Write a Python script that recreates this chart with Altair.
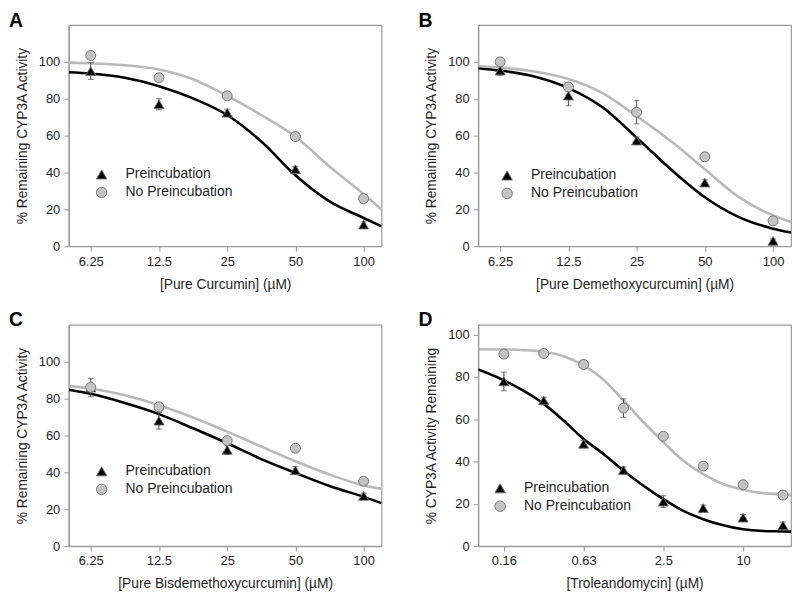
import altair as alt
import pandas as pd

FONT = "Liberation Sans"

# ---------------- data ----------------
series = ["Preincubation", "No Preincubation"]

# Panel A: pure curcumin
a_conc = [6.25, 12.5, 25, 50, 100]
a_pre = [95, 77, 72.4, 41.8, 11.7]
a_pre_sd = [4.5, 3, 2, 1.5, 1.5]
a_nopre = [103.5, 91.4, 81.6, 59.5, 25.8]
a_nopre_sd = [2, 1.5, 2, 1.5, 1.5]
a_cx = [5, 6.25, 8.84, 12.5, 17.68, 25, 35.36, 50, 70.71, 100, 120]
a_pre_curve = [94.4, 93.7, 91.4, 86.8, 80.2, 71.2, 56.8, 38.5, 24.3, 15.3, 10.8]
a_nopre_curve = [99.6, 99.3, 98.2, 95.9, 90.6, 81.6, 71.2, 59.5, 43.2, 28.3, 19.8]

# Panel B: pure demethoxycurcumin
b_conc = [6.25, 12.5, 25, 50, 100]
b_pre = [95.3, 81.7, 57.3, 34.5, 2.9]
b_pre_sd = [2.5, 5.5, 2, 1.5, 1]
b_nopre = [100, 86.4, 72.7, 48.5, 13.8]
b_nopre_sd = [2, 2, 6.3, 2, 2]
b_cx = [5, 6.25, 8.84, 12.5, 17.68, 25, 35.36, 50, 70.71, 100, 120]
b_pre_curve = [96.6, 95.3, 92.1, 85.8, 75.4, 58.9, 41.8, 26.6, 15.8, 9.5, 7.4]
b_nopre_curve = [97.8, 96.9, 94.8, 90.7, 83.1, 70.6, 57.1, 41.8, 26.6, 16.7, 13.1]

# Panel C: pure bisdemethoxycurcumin
c_conc = [6.25, 12.5, 25, 50, 100]
c_pre = [86, 68, 52.2, 41.1, 27.2]
c_pre_sd = [5, 4.5, 2.5, 2, 1.5]
c_nopre = [86.2, 75.5, 57.2, 53.1, 35.2]
c_nopre_sd = [2, 2, 2, 2, 2]
c_cx = [5, 6.25, 8.84, 12.5, 17.68, 25, 35.36, 50, 70.71, 100, 120]
c_pre_curve = [84.8, 82.6, 77.6, 71.6, 63.9, 55.8, 47.2, 39.7, 32.6, 26.7, 23.3]
c_nopre_curve = [86.9, 85.5, 81.8, 76.4, 69.8, 62.1, 54.0, 46.0, 38.8, 32.9, 31.1]

# Panel D: troleandomycin
d_conc = [0.15625, 0.3125, 0.625, 1.25, 2.5, 5, 10, 20]
d_pre = [77.8, 68.8, 48.3, 35.9, 21, 17.9, 13.4, 9.8]
d_pre_sd = [4.4, 1.5, 1.5, 1.5, 2.8, 1.5, 1.5, 1.5]
d_nopre = [90.7, 91, 85.8, 65.2, 51.9, 37.8, 29, 24.1]
d_nopre_sd = [1.5, 1.5, 1.5, 4.3, 1.5, 1.5, 1.5, 1.5]
d_cx = [0.1, 0.156, 0.221, 0.3125, 0.442, 0.625, 0.884, 1.25, 1.77, 2.5,
        3.54, 5, 7.07, 10, 14.14, 20, 23]
d_pre_curve = [83.4, 78.3, 73.3, 67.2, 59.3, 50.6, 43.5, 35.6, 28.5, 22.2,
               16.6, 12.7, 9.8, 7.9, 7.1, 6.9, 6.8]
d_nopre_curve = [93.0, 92.9, 92.6, 91.8, 89.7, 85.4, 78.6, 68.8, 58.5, 49.1,
                 40.3, 34.0, 29.3, 26.6, 25.0, 24.4, 24.2]

W, H = 314, 222
FRAME = "#9a9a9a"
TXT = "#1e1e1e"


def panel(letter, conc, pre, pre_sd, nopre, nopre_sd, cx, pre_c, nopre_c,
          xdomain, xticks, xfmt, ydomain, xtitle, ytitle, leg_xy):
    pts = pd.DataFrame({
        "conc": conc + conc,
        "val": pre + nopre,
        "sd": pre_sd + nopre_sd,
        "series": [series[0]] * len(conc) + [series[1]] * len(conc),
    })
    pts["lo"] = pts["val"] - pts["sd"]
    pts["hi"] = pts["val"] + pts["sd"]
    cur = pd.DataFrame({
        "conc": cx + cx,
        "val": pre_c + nopre_c,
        "series": [series[0]] * len(cx) + [series[1]] * len(cx),
    })

    xs = alt.Scale(type="log", domain=xdomain, nice=False)
    ys = alt.Scale(domain=ydomain, nice=False, zero=False)
    xax = alt.Axis(values=xticks, format=xfmt, title=xtitle, grid=False)
    yax = alt.Axis(values=[0, 20, 40, 60, 80, 100], title=ytitle, grid=False)

    x = alt.X("conc:Q", scale=xs, axis=xax)
    y = alt.Y("val:Q", scale=ys, axis=yax)

    lines = alt.Chart(cur).mark_line(strokeWidth=2.6, interpolate="monotone",
                                     clip=True).encode(
        x=x, y=y,
        stroke=alt.Stroke("series:N", legend=None,
                          scale=alt.Scale(domain=series,
                                          range=["#000000", "#b9b9b9"])),
        detail="series:N",
    )
    bars = alt.Chart(pts).mark_rule(color="#4a4a4a", strokeWidth=1).encode(
        x=alt.X("conc:Q", scale=xs), y=alt.Y("lo:Q", scale=ys), y2="hi:Q")
    cap_hi = alt.Chart(pts).mark_tick(color="#4a4a4a", thickness=1,
                                      size=6, orient="horizontal").encode(
        x=alt.X("conc:Q", scale=xs), y=alt.Y("hi:Q", scale=ys))
    cap_lo = alt.Chart(pts).mark_tick(color="#4a4a4a", thickness=1,
                                      size=6, orient="horizontal").encode(
        x=alt.X("conc:Q", scale=xs), y=alt.Y("lo:Q", scale=ys))
    points = alt.Chart(pts).mark_point(filled=True, opacity=1, size=100,
                                       stroke="#6e6e6e",
                                       strokeWidth=0.9).encode(
        x=x, y=y,
        fill=alt.Fill("series:N", sort=series,
                      scale=alt.Scale(domain=series,
                                      range=["#000000", "#c3c3c3"]),
                      legend=alt.Legend(orient="none", legendX=leg_xy[0],
                                        legendY=leg_xy[1], title=None,
                                        symbolSize=110, labelFontSize=14,
                                        labelFont=FONT, labelColor=TXT,
                                        labelOffset=17, rowPadding=3,
                                        symbolStrokeColor="#6e6e6e",
                                        symbolStrokeWidth=0.9)),
        shape=alt.Shape("series:N", sort=series,
                        scale=alt.Scale(domain=series,
                                        range=["triangle-up", "circle"])),
        order=alt.Order("order:Q"),
    ).transform_calculate(order="datum.series == 'Preincubation' ? 0 : 1")

    return alt.layer(lines, bars, cap_hi, cap_lo, points).properties(
        width=W, height=H,
        title=alt.TitleParams(letter, anchor="start", frame="group", dx=-60,
                              fontSize=19.5, fontWeight="bold", font=FONT,
                              color="#000000", offset=-6),
    )


A = panel("A", a_conc, a_pre, a_pre_sd, a_nopre, a_nopre_sd, a_cx,
          a_pre_curve, a_nopre_curve, [5, 120], [6.25, 12.5, 25, 50, 100],
          ".3~g", [0, 120], "[Pure Curcumin] (\u00b5M)",
          "% Remaining CYP3A Activity", (26, 143))
B = panel("B", b_conc, b_pre, b_pre_sd, b_nopre, b_nopre_sd, b_cx,
          b_pre_curve, b_nopre_curve, [5, 120], [6.25, 12.5, 25, 50, 100],
          ".3~g", [0, 120], "[Pure Demethoxycurcumin] (\u00b5M)",
          "% Remaining CYP3A Activity", (22, 144))
C = panel("C", c_conc, c_pre, c_pre_sd, c_nopre, c_nopre_sd, c_cx,
          c_pre_curve, c_nopre_curve, [5, 120], [6.25, 12.5, 25, 50, 100],
          ".3~g", [0, 120], "[Pure Bisdemethoxycurcumin] (\u00b5M)",
          "% Remaining CYP3A Activity", (26, 140))
D = panel("D", d_conc, d_pre, d_pre_sd, d_nopre, d_nopre_sd, d_cx,
          d_pre_curve, d_nopre_curve, [0.1, 23], [0.15625, 0.625, 2.5, 10],
          ".2~g", [0, 104.5], "[Troleandomycin] (\u00b5M)",
          "% CYP3A Activity Remaining", (15, 157))

row1 = alt.hconcat(A, B, spacing=35).resolve_legend(fill="independent",
                                                    shape="independent")
row2 = alt.hconcat(C, D, spacing=35).resolve_legend(fill="independent",
                                                    shape="independent")

chart = alt.vconcat(row1, row2, spacing=17).resolve_legend(
    fill="independent", shape="independent").resolve_scale(
    fill="independent", shape="independent", stroke="independent").properties(
    padding={"left": 0, "top": 0, "right": 0, "bottom": 0},
    background="white",
).configure_view(stroke=FRAME, strokeWidth=1.2).configure_axis(
    domainColor=FRAME, domainWidth=1.2, tickColor=FRAME, tickSize=5,
    tickWidth=1, labelFont=FONT, labelFontSize=13, labelColor=TXT,
    labelPadding=4, titleFont=FONT, titleFontSize=13.8,
    titleFontWeight="normal", titleColor=TXT, titlePadding=9,
).configure_axisX(titlePadding=9).configure_title(font=FONT)

chart.save("out.html", embed_options={"renderer": "svg", "actions": False})
